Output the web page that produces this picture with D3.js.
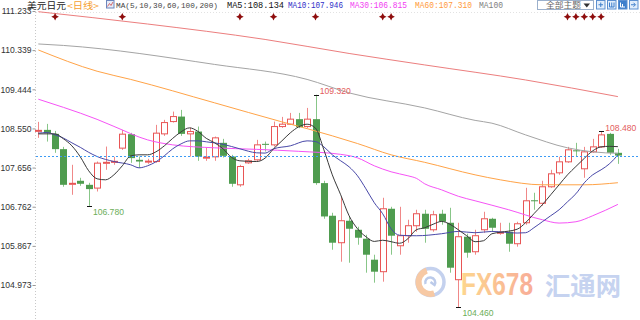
<!DOCTYPE html>
<html>
<head>
<meta charset="utf-8">
<title>美元日元 日线</title>
<script src="https://cdn.jsdelivr.net/npm/d3@7"></script>
<style>
html, body { margin: 0; padding: 0; background: #fff; }
svg { display: block; }
</style>
</head>
<body>
<div id="chart"></div>
<script>
// daily candles, oldest first
var opens = [108.483,108.517,108.426,108.077,107.274,107.354,107.262,107.187,107.753,107.776,
	108.100,108.419,107.833,107.787,107.794,108.426,108.707,108.821,108.426,108.479,
	107.872,107.901,108.221,107.908,107.262,107.764,107.833,108.198,108.175,108.593,
	108.647,108.762,108.593,108.762,107.301,106.555,105.939,106.441,106.235,106.030,
	105.551,105.277,106.715,105.870,106.099,106.327,106.601,106.235,106.601,106.395,
	105.094,106.076,105.733,106.235,106.486,106.155,106.190,105.916,106.395,106.909,
	106.840,107.217,107.536,107.787,108.050,107.628,108.015,108.129,108.426,107.993];
var highs = [108.700,108.654,108.494,108.129,107.719,107.422,107.308,107.794,108.136,107.901,
	108.517,108.449,107.908,107.856,108.632,108.746,108.935,108.974,108.570,108.593,
	108.107,108.365,108.312,107.947,107.719,107.856,108.289,108.250,108.707,108.814,
	108.905,108.905,109.019,109.320,107.354,106.623,106.988,106.532,106.304,106.121,
	105.665,106.966,106.760,106.760,106.464,106.692,106.692,106.669,106.692,106.737,
	106.395,106.144,106.235,106.646,106.509,106.395,106.395,106.418,107.194,107.080,
	107.354,107.605,107.901,108.129,108.221,108.129,108.312,108.480,108.449,108.084];
var lows = [108.335,108.250,107.993,107.217,107.034,107.239,106.780,107.109,107.605,107.719,
	108.061,107.764,107.650,107.741,107.764,108.380,108.684,108.380,107.908,107.810,
	107.810,107.810,107.885,107.217,107.217,107.741,107.810,108.022,108.136,108.563,
	108.632,108.556,108.563,107.262,106.486,105.779,105.505,105.482,105.893,105.254,
	105.026,105.049,105.665,105.665,105.939,106.190,105.939,106.190,106.350,105.254,
	104.460,105.596,105.665,106.167,106.190,106.121,105.733,105.848,106.350,106.692,
	106.783,107.194,107.491,107.764,107.901,107.422,107.993,108.107,107.947,107.741];
var closes = [108.506,108.442,108.077,107.262,107.296,107.285,107.164,107.757,107.776,107.798,
	108.419,107.872,107.794,107.803,108.442,108.684,108.821,108.426,108.479,107.908,
	107.894,108.335,107.924,107.285,107.680,107.810,108.175,108.175,108.593,108.647,
	108.762,108.579,108.762,107.301,106.539,105.939,106.441,106.258,106.053,105.665,
	105.277,106.715,106.099,106.099,106.327,106.601,106.258,106.578,106.418,105.368,
	106.076,105.711,106.099,106.486,106.281,106.178,105.916,106.372,106.897,106.886,
	107.217,107.513,107.787,108.061,108.027,108.015,108.129,108.403,107.993,107.930];

var yTicks = [111.233, 110.339, 109.444, 108.550, 107.656, 106.762, 105.867, 104.973];

// moving averages, read at some of the candles
var ma5Idx = [0,2,3,4,5,6,7,8,9,10,11,12,13,14,15,16,17,18,19,20,21,22,23,24,26,27,28,29,30,31,32,33,34,35,36,37,38,39,40,41,42,43,44,45,46,47,48,49,50,51,52,53,54,55,57,58,59,60,61,62,63,64,65,66,67,68,69];
var ma5Val = [108.426,108.426,108.312,108.152,107.901,107.582,107.399,107.376,107.490,107.696,107.924,107.947,107.947,108.015,108.152,108.323,108.472,108.563,108.483,108.323,108.221,108.084,107.890,107.810,107.794,107.872,108.084,108.266,108.449,108.586,108.647,108.556,108.061,107.490,107.034,106.555,106.258,106.076,105.968,105.996,105.962,105.927,106.030,106.235,106.281,106.361,106.425,106.361,106.235,106.098,105.962,105.984,106.144,106.178,106.247,106.395,106.601,106.806,107.034,107.262,107.490,107.680,107.867,108.038,108.129,108.141,108.134];
var ma10Idx = [0,1,2,3,4,5,6,7,9,11,12,13,14,15,16,17,18,19,20,22,24,26,27,28,30,32,33,34,35,36,37,38,39,40,41,42,43,45,48,50,52,54,57,58,59,60,61,62,63,64,65,66,67,68,69];
var ma10Val = [108.442,108.456,108.403,108.328,108.221,108.118,108.004,107.908,107.794,107.719,107.650,107.696,107.787,107.924,108.084,108.198,108.266,108.266,108.244,108.187,108.084,107.993,107.986,108.084,108.152,108.266,108.250,108.129,107.947,107.810,107.673,107.468,107.171,106.852,106.601,106.258,106.110,106.098,106.144,106.197,106.167,106.197,106.160,106.167,106.281,106.418,106.555,106.692,106.874,107.057,107.308,107.490,107.605,107.742,107.946];
var ma30Idx = [0,3,7,9,13,16,21,26,31,36,38,40,42,44,45,46,48,50,52,56,60,62,64,66,69];
var ma30Val = [109.218,109.031,108.757,108.597,108.289,108.175,108.107,108.072,108.027,107.958,107.878,107.696,107.559,107.468,107.411,107.285,107.148,107.000,106.897,106.692,106.464,106.388,106.418,106.555,106.815];
var ma60Idx = [0,7,11,21,29,32,38,42,46,52,55,60,65,69];
var ma60Val = [110.343,109.857,109.670,109.134,108.700,108.545,108.205,107.947,107.776,107.490,107.376,107.262,107.262,107.310];
var ma100Idx = [0,3,21,32,37,46,52,54,58,63,66,69];
var ma100Val = [110.480,110.446,110.012,109.670,109.362,109.019,108.734,108.670,108.403,108.107,108.015,107.981];
var ma200Idx = [0,13,27,37,46,58,69];
var ma200Val = [111.217,110.936,110.583,110.263,110.001,109.658,109.277];

// signal diamonds along the top, and marked highs / lows
var eventIdx = [2,10,24,28,33,41,42,63,64,65,66,67];
var markIdx = [6,33,50,67];
var markType = ["low","high","low","high"];

var legendText = ["MA5:108.134","MA10:107.946","MA30:106.815","MA60:107.310","MA100"];

var width = 640, height = 320;
var upColor = "#e85555", downColor = "#4f9c4f";

var svg = d3.select("#chart").append("svg")
	.attr("width", width)
	.attr("height", height)
	.style("font-family", "'Liberation Sans', Arial, sans-serif");

var x = d3.scalePoint()
	.domain(d3.range(closes.length))
	.range([34.1, 622.1])
	.padding(0.5);

var y = d3.scaleLinear()
	.domain([104.973, 111.233])
	.range([285, 11]);

var fmt = d3.format(".3f");

// --- watermark (behind everything) ---
var wm = svg.append("g").attr("class", "watermark");
var grad = svg.append("defs").append("linearGradient")
	.attr("id", "fxgrad").attr("x1", "0").attr("x2", "1");
grad.append("stop").attr("offset", "0").attr("stop-color", "#fdd68e");
grad.append("stop").attr("offset", "1").attr("stop-color", "#f8ad98");

wm.append("circle").attr("cx", 430.5).attr("cy", 282).attr("r", 13.5)
	.attr("fill", "none").attr("stroke", "#c4d1ee").attr("stroke-width", 3.5);
wm.append("path")
	.attr("transform", "translate(430.5,282)")
	.attr("d", d3.arc()({innerRadius: 9, outerRadius: 15, startAngle: Math.PI * 0.9, endAngle: Math.PI * 1.9}))
	.attr("fill", "#f7c9a4");
wm.append("path")
	.attr("transform", "translate(430.5,282)")
	.attr("d", "M-5,2 A5,5 0 1,1 4,3 L0,0")
	.attr("fill", "none").attr("stroke", "#bccbea").attr("stroke-width", 2.5);
wm.append("text").attr("x", 461).attr("y", 295)
	.attr("textLength", 72).attr("lengthAdjust", "spacingAndGlyphs")
	.style("font-size", "31px").style("font-weight", "bold")
	.attr("fill", "url(#fxgrad)").text("FX678");
wm.append("text").attr("x", 545).attr("y", 295)
	.attr("textLength", 76).attr("lengthAdjust", "spacingAndGlyphs")
	.style("font-family", "'Noto Sans CJK SC', sans-serif")
	.style("font-size", "25px").style("font-weight", "bold")
	.attr("fill", "#c6d3f0").text("汇通网");

// --- axis ---
svg.append("line")
	.attr("x1", 35.5).attr("x2", 35.5).attr("y1", 12).attr("y2", height)
	.attr("stroke", "#c8c8c8").attr("stroke-dasharray", "1,2");
svg.append("line")
	.attr("x1", 36).attr("x2", width).attr("y1", 12.5).attr("y2", 12.5)
	.attr("stroke", "#e2e2e2").attr("stroke-dasharray", "1,2");

var yAxis = svg.append("g")
	.attr("transform", "translate(35.5,0)")
	.call(d3.axisLeft(y).tickValues(yTicks).tickFormat(fmt).tickSize(3).tickPadding(1).tickSizeOuter(0));
yAxis.select(".domain").remove();
yAxis.selectAll("line").attr("stroke", "#999");
yAxis.selectAll("text")
	.style("font-size", "8.6px")
	.style("font-family", "'Liberation Sans', Arial, sans-serif")
	.attr("fill", "#333");

// --- candles ---
var data = closes.map(function(c, i){
	return {i: i, o: opens[i], h: highs[i], l: lows[i], c: c};
});

var candle = svg.append("g").attr("class", "candles")
	.selectAll("g").data(data).enter().append("g");

candle.each(function(d){
	var g = d3.select(this);
	var cx = Math.round(x(d.i)) + 0.5;
	var up = d.c >= d.o;
	var top = y(Math.max(d.o, d.c)), bot = y(Math.min(d.o, d.c));
	if(bot - top < 1){ bot = top + 1; }
	var col = up ? upColor : downColor;
	var wick = up ? "#f08888" : "#88c688";
	if(up){
		g.append("line").attr("x1", cx).attr("x2", cx).attr("y1", y(d.h)).attr("y2", top).attr("stroke", wick);
		g.append("line").attr("x1", cx).attr("x2", cx).attr("y1", bot).attr("y2", y(d.l)).attr("stroke", wick);
		g.append("rect")
			.attr("x", cx - 3).attr("y", top)
			.attr("width", 6).attr("height", Math.max(bot - top, 0.5))
			.attr("fill", "#fff").attr("stroke", col);
	}else{
		g.append("line").attr("x1", cx).attr("x2", cx).attr("y1", y(d.h)).attr("y2", y(d.l)).attr("stroke", wick);
		g.append("rect")
			.attr("x", cx - 3.5).attr("y", top)
			.attr("width", 7).attr("height", bot - top)
			.attr("fill", col);
	}
});

// --- moving averages ---
var maList = [
	{idx: ma200Idx, val: ma200Val, color: "#ec7e7e"},
	{idx: ma100Idx, val: ma100Val, color: "#a4a4a4"},
	{idx: ma60Idx, val: ma60Val, color: "#ffa347"},
	{idx: ma30Idx, val: ma30Val, color: "#f653f6"},
	{idx: ma10Idx, val: ma10Val, color: "#4848a8"},
	{idx: ma5Idx, val: ma5Val, color: "#3a3a3a"}
];

var line = d3.line()
	.x(function(d){ return x(d[0]); })
	.y(function(d){ return y(d[1]); })
	.curve(d3.curveMonotoneX);

svg.append("g").attr("class", "ma")
	.selectAll("path").data(maList).enter().append("path")
	.attr("d", function(m){ return line(m.idx.map(function(k, j){ return [k, m.val[j]]; })); })
	.attr("fill", "none")
	.attr("stroke", function(m){ return m.color; })
	.attr("stroke-width", 1);

// last price dashed line
var lastY = Math.round(y(closes[closes.length - 1])) + 0.5;
svg.append("line")
	.attr("x1", 36).attr("x2", width)
	.attr("y1", lastY).attr("y2", lastY)
	.attr("stroke", "#3d9bf5").attr("stroke-dasharray", "2,2");

// --- marked highs / lows ---
var marks = svg.append("g").attr("class", "marks");
markIdx.forEach(function(k, j){
	var isHigh = markType[j] === "high";
	var v = isHigh ? highs[k] : lows[k];
	var cx = Math.round(x(k)) + 0.5, cy = Math.round(y(v)) + 0.5;
	marks.append("line").attr("x1", cx - 2.5).attr("x2", cx + 2.5).attr("y1", cy).attr("y2", cy)
		.attr("stroke", "#111");
	marks.append("text")
		.attr("x", x(k) + 4.2)
		.attr("y", isHigh ? y(v) - 0.5 : y(v) + 8.8)
		.style("font-size", "8.6px")
		.attr("fill", isHigh ? "#e35d5d" : "#6cae58")
		.text(fmt(v));
});

// --- signal diamonds ---
var star = "M0,-3.8L1.3,-1.3L3.8,0L1.3,1.3L0,3.8L-1.3,1.3L-3.8,0L-1.3,-1.3Z";
svg.append("g").attr("class", "events")
	.selectAll("path").data(eventIdx).enter().append("path")
	.attr("transform", function(k){ return "translate(" + x(k) + ",16.7)"; })
	.attr("d", star)
	.attr("fill", "#8e0d0d");

// --- header ---
var head = svg.append("g").attr("class", "header");
var cjk = "'Noto Sans CJK SC', sans-serif";
head.append("text").attr("x", 27).attr("y", 8.6)
	.attr("textLength", 39).attr("lengthAdjust", "spacingAndGlyphs")
	.style("font-family", cjk).style("font-size", "9px")
	.attr("fill", "#222").text("美元日元");
head.append("text").attr("x", 67).attr("y", 8.6)
	.attr("textLength", 32).attr("lengthAdjust", "spacingAndGlyphs")
	.style("font-family", cjk).style("font-size", "9px")
	.attr("fill", "#f5a033").text("<日线>");
head.append("rect").attr("x", 106.5).attr("y", 0.5).attr("width", 7.5).attr("height", 7.5)
	.attr("fill", "#e6ecf8").attr("stroke", "#6d86bd");
head.append("polyline").attr("points", "107.5,6.5 109.5,3.5 111,5.5 113,2")
	.attr("fill", "none").attr("stroke", "#d04a4a").attr("stroke-width", 0.8);

var mono = "'Liberation Mono', 'DejaVu Sans Mono', monospace";
head.append("text").attr("x", 116).attr("y", 8.4)
	.attr("textLength", 102).attr("lengthAdjust", "spacingAndGlyphs")
	.style("font-family", mono).style("font-size", "8px")
	.attr("fill", "#444").text("MA(5,10,30,60,100,200)");

var legX = [227, 288, 350, 415, 479];
var legW = [57, 55, 57, 57, 24];
var legColor = ["#111", "#2e2ec8", "#f23cf2", "#ff9a3a", "#808080"];
head.selectAll("text.leg").data(legendText).enter().append("text")
	.attr("class", "leg")
	.attr("x", function(d, j){ return legX[j]; })
	.attr("y", 8.4)
	.attr("textLength", function(d, j){ return legW[j]; })
	.attr("lengthAdjust", "spacingAndGlyphs")
	.style("font-family", mono).style("font-size", "8.3px")
	.attr("fill", function(d, j){ return legColor[j]; })
	.text(function(d){ return d; });

// theme dropdown and tool buttons, top right
head.append("rect").attr("x", 537.5).attr("y", 0.5).attr("width", 56).attr("height", 9)
	.attr("fill", "#fff").attr("stroke", "#9bb0cc");
head.append("text").attr("x", 546).attr("y", 8.4)
	.attr("textLength", 35).attr("lengthAdjust", "spacingAndGlyphs")
	.style("font-family", cjk).style("font-size", "8px")
	.attr("fill", "#666").text("全部主题");
head.append("path").attr("d", "M583.5,3.5L590,3.5L586.75,7.5Z").attr("fill", "#333");

var btnX = [596.5, 607.5, 618.5, 629.5];
var btnFill = ["#e1edfb", "#e1edfb", "#3f7fcc", "#e1edfb"];
head.selectAll("rect.btn").data(btnX).enter().append("rect")
	.attr("class", "btn")
	.attr("x", function(d){ return d; }).attr("y", 0.5)
	.attr("width", 8.5).attr("height", 8.5)
	.attr("fill", function(d, j){ return btnFill[j]; })
	.attr("stroke", "#5d90d0");
head.append("path").attr("d", "M598.5,4.75h4.5M600.75,2.5v4.5").attr("stroke", "#3f7fcc");
head.append("path").attr("d", "M609.5,2.5v4.5h4.5v-4.5M611.75,2.5v4.5").attr("fill", "none").attr("stroke", "#3f7fcc");
head.append("path").attr("d", "M620.5,2.5v4.5h4.5M622.5,4v3").attr("fill", "none").attr("stroke", "#fff");
head.append("path").attr("d", "M631,4.75h4M633.5,2.75l2,2l-2,2").attr("fill", "none").attr("stroke", "#3f7fcc");
</script>
</body>
</html>
